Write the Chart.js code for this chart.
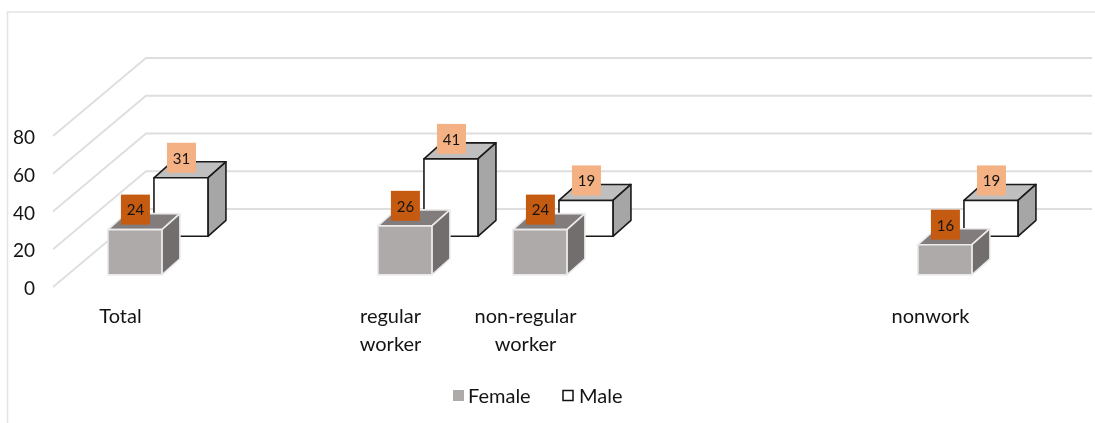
<!DOCTYPE html>
<html>
<head>
<meta charset="utf-8">
<title>Female and Male by work status</title>
<script src="https://cdn.jsdelivr.net/npm/chart.js@4/dist/chart.umd.min.js"></script>
<style>
	html, body { margin: 0; padding: 0; background: #fff; }
	canvas { display: block; }
</style>
</head>
<body>
<canvas id="chart" width="1095" height="423"></canvas>
<script>
// empty slots keep the spacing of the category axis
const categories = ['Total', '', ['regular', 'worker'], ['non-regular', 'worker'], '', '', 'nonwork'];
const femaleValues = [24, null, 26, 24, null, null, 16];
const maleValues = [31, null, 41, 19, null, null, 19];
const valueTicks = [0, 20, 40, 60, 80];

const FONT = 'Lato, Carlito, sans-serif';
const TEXT_COLOR = '#141414';
const GRID_COLOR = '#dedede';

// floor of the 3D box: how far the back wall sits from the front edge
const FLOOR_DX = 93;
const FLOOR_DY = 78;
// depth of one bar
const BAR_DX = 18;
const BAR_DY = 16;

function drawBox(ctx, x, top, base, w, style) {
	let right = x + w;
	ctx.lineWidth = 1.6;
	ctx.lineJoin = 'round';
	ctx.strokeStyle = style.edge;

	// top face
	ctx.beginPath();
	ctx.moveTo(x, top);
	ctx.lineTo(x + BAR_DX, top - BAR_DY);
	ctx.lineTo(right + BAR_DX, top - BAR_DY);
	ctx.lineTo(right, top);
	ctx.closePath();
	ctx.fillStyle = style.top;
	ctx.fill();
	ctx.stroke();

	// side face
	ctx.beginPath();
	ctx.moveTo(right, top);
	ctx.lineTo(right + BAR_DX, top - BAR_DY);
	ctx.lineTo(right + BAR_DX, base - BAR_DY);
	ctx.lineTo(right, base);
	ctx.closePath();
	ctx.fillStyle = style.side;
	ctx.fill();
	ctx.stroke();

	// front face
	ctx.beginPath();
	ctx.rect(x, top, w, base - top);
	ctx.fillStyle = style.front;
	ctx.fill();
	ctx.stroke();
}

const box3dPlugin = {
	id: 'box3d',

	beforeDraw(chart) {
		let ctx = chart.ctx;
		ctx.save();
		ctx.strokeStyle = '#e3e3e3';
		ctx.lineWidth = 1.5;
		ctx.beginPath();
		ctx.moveTo(7.5, 423);
		ctx.lineTo(7.5, 12);
		ctx.lineTo(1095, 12);
		ctx.stroke();
		ctx.restore();
	},

	// floor and wall lines, one for each value tick
	beforeDatasetsDraw(chart) {
		let ctx = chart.ctx;
		let yScale = chart.scales.y;
		let left = chart.chartArea.left;
		ctx.save();
		ctx.strokeStyle = GRID_COLOR;
		ctx.lineWidth = 1.8;
		valueTicks.forEach(function(tick) {
			let y = yScale.getPixelForValue(tick);
			ctx.beginPath();
			ctx.moveTo(left, y);
			ctx.lineTo(left + FLOOR_DX, y - FLOOR_DY);
			ctx.lineTo(1092, y - FLOOR_DY);
			ctx.stroke();
		});
		ctx.restore();
	},

	// replaces the flat bar with a box pushed back along the floor
	beforeDatasetDraw(chart, args) {
		let ctx = chart.ctx;
		let dataset = chart.data.datasets[args.index];
		let shiftX = FLOOR_DX * dataset.floorRow;
		let shiftY = FLOOR_DY * dataset.floorRow;
		ctx.save();
		args.meta.data.forEach(function(bar, i) {
			let value = dataset.data[i];
			if(value === null) {
				return;
			}
			let x = bar.x - bar.width / 2 + shiftX;
			let top = bar.y - shiftY;
			let base = bar.base - shiftY;
			drawBox(ctx, x, top, base, bar.width, dataset.box);

			// value tag above the box
			let tagX = x + bar.width / 2 + 0.5;
			let tagY = top - 20;
			ctx.fillStyle = dataset.tagColor;
			ctx.fillRect(tagX - 14.5, tagY - 15, 29, 30);
			ctx.fillStyle = TEXT_COLOR;
			ctx.font = '15px ' + FONT;
			ctx.textAlign = 'center';
			ctx.textBaseline = 'middle';
			ctx.fillText(String(value), tagX, tagY + 1);
		});
		ctx.restore();
		return false;
	},

	afterDraw(chart) {
		let ctx = chart.ctx;
		let female = chart.data.datasets[0];
		let male = chart.data.datasets[1];
		ctx.save();
		ctx.font = '20px ' + FONT;
		ctx.textAlign = 'left';
		ctx.textBaseline = 'middle';

		ctx.fillStyle = female.box.front;
		ctx.fillRect(453, 390, 11, 11);
		ctx.fillStyle = TEXT_COLOR;
		ctx.fillText(female.label, 468, 397);

		ctx.strokeStyle = '#111';
		ctx.lineWidth = 1.5;
		ctx.strokeRect(563, 390.5, 10, 10);
		ctx.fillText(male.label, 579, 397);
		ctx.restore();
	}
};

const config = {
	type: 'bar',
	data: {
		labels: categories,
		datasets: [
			{
				label: 'Female',
				data: femaleValues,
				floorRow: 0.155,
				tagColor: '#c55a11',
				box: { front: '#aeaaa9', side: '#716e6d', top: '#827d7c', edge: '#ebebeb' }
			},
			{
				label: 'Male',
				data: maleValues,
				floorRow: 0.65,
				tagColor: '#f4b183',
				box: { front: '#ffffff', side: '#a6a6a6', top: '#bfbfbf', edge: '#1a1a1a' }
			}
		]
	},
	options: {
		responsive: false,
		animation: false,
		layout: { padding: { left: 0, right: 97, top: 136, bottom: 0 } },
		datasets: { bar: { grouped: false, barThickness: 54 } },
		plugins: {
			legend: { display: false },
			tooltip: { enabled: false }
		},
		scales: {
			x: {
				grid: { display: false },
				border: { display: false },
				ticks: {
					autoSkip: false,
					maxRotation: 0,
					padding: 8,
					color: TEXT_COLOR,
					font: { family: FONT, size: 20, lineHeight: 1.4 }
				},
				afterFit(scale) {
					scale.height = 136;
				}
			},
			y: {
				min: 0,
				max: 80,
				grid: { display: false },
				border: { display: false },
				afterBuildTicks(scale) {
					scale.ticks = valueTicks.map(v => ({ value: v }));
				},
				ticks: {
					padding: 10,
					color: TEXT_COLOR,
					font: { family: FONT, size: 19 }
				},
				afterFit(scale) {
					scale.width = 53;
				}
			}
		}
	},
	plugins: [box3dPlugin]
};

const chart = new Chart(document.getElementById('chart'), config);

// Lato sits a little high on a middle baseline, nudge the value labels down
const drawYLabels = chart.scales.y.drawLabels;
chart.scales.y.drawLabels = function(area) {
	chart.ctx.save();
	chart.ctx.translate(0, 2);
	drawYLabels.call(this, area);
	chart.ctx.restore();
};
chart.draw();
</script>
</body>
</html>
